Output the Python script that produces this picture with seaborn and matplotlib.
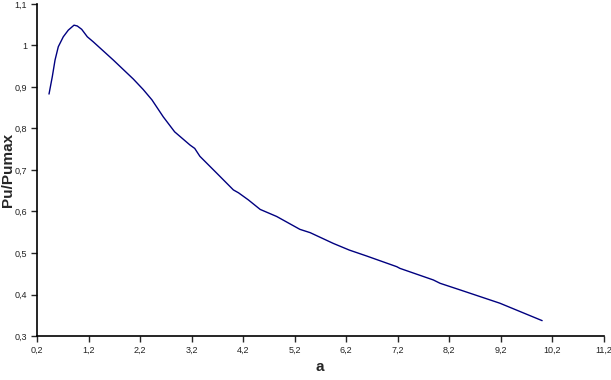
import matplotlib
matplotlib.use("Agg")
import matplotlib.pyplot as plt
from matplotlib.ticker import FuncFormatter, MultipleLocator
import seaborn as sns
import pandas as pd
import numpy as np

a_vals = [0.433, 0.497, 0.55, 0.613, 0.71, 0.807, 0.918, 0.982, 1.067, 1.176, 1.29,
          1.68, 2.07, 2.26, 2.43, 2.65, 2.87, 3.17, 3.26, 3.36, 3.69, 4.01, 4.11,
          4.30, 4.53, 4.85, 5.30, 5.50, 5.95, 6.26, 6.59, 7.18, 7.24, 7.89, 8.02,
          8.41, 9.18, 10.0]
pu_vals = [0.883, 0.925, 0.965, 0.997, 1.021, 1.037, 1.049, 1.047, 1.039, 1.021, 1.009,
           0.965, 0.919, 0.894, 0.869, 0.828, 0.792, 0.760, 0.752, 0.733, 0.692, 0.652,
           0.645, 0.628, 0.605, 0.588, 0.557, 0.549, 0.523, 0.507, 0.493, 0.467, 0.463,
           0.435, 0.427, 0.411, 0.379, 0.337]

df = pd.DataFrame({"a": a_vals, "Pu/Pumax": pu_vals})

sns.set_style("ticks")
plt.rcParams['font.family'] = ['Liberation Sans', 'DejaVu Sans']

fig = plt.figure(figsize=(6.11, 3.80), dpi=100)
ax = fig.add_axes([37/611, 44/380, (604-37)/611, (336-4)/380])
sns.lineplot(data=df, x="a", y="Pu/Pumax", ax=ax, color="#000080", linewidth=1.0,
             sort=False)

ax.set_xlim(0.2, 11.2)
ax.set_ylim(0.3, 1.1)
ax.set_xticks(np.arange(0.2, 11.3, 1.0))
ax.yaxis.set_major_locator(MultipleLocator(0.1))
fmt = FuncFormatter(lambda v, p: ("%g" % round(v, 2)).replace(".", ","))
ax.xaxis.set_major_formatter(fmt)
ax.yaxis.set_major_formatter(fmt)
ax.tick_params(axis="both", direction="out", length=4, width=1, labelsize=6.5,
               labelcolor="#222222", pad=3)
for s in ["top", "right"]:
    ax.spines[s].set_visible(False)
for s in ["left", "bottom"]:
    ax.spines[s].set_linewidth(1.2)
    ax.spines[s].set_color("black")

ax.set_xlabel("a", fontsize=11, fontweight="bold")
ax.set_ylabel("Pu/Pumax", fontsize=11, fontweight="bold")
ax.xaxis.set_label_coords((320-37)/567, (336-360)/332)
ax.yaxis.set_label_coords((15-37)/567, (336-170)/332)

fig.savefig("out.png", dpi=100)
